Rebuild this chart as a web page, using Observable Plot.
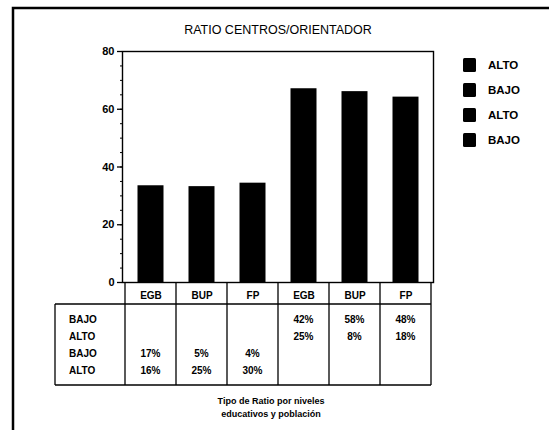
<!DOCTYPE html>
<html><head><meta charset="utf-8">
<script src="https://cdn.jsdelivr.net/npm/d3@7"></script>
<script src="https://cdn.jsdelivr.net/npm/@observablehq/plot@0.6"></script>
<style>
body{margin:0;background:#fff;}
#chart svg{display:block;}
</style></head><body><div id="chart"></div>
<script>
const title = "RATIO CENTROS/ORIENTADOR";
const columns = ["EGB1","BUP1","FP1","EGB2","BUP2","FP2"];
const columnLabels = ["EGB","BUP","FP","EGB","BUP","FP"];
const ratios = [33.5, 33.2, 34.4, 67.1, 66.1, 64.2];
const yTicks = [0, 20, 40, 60, 80];
const rowLabels = ["BAJO","ALTO","BAJO","ALTO"];
const colEGB1 = ["", "", "17%", "16%"];
const colBUP1 = ["", "", "5%", "25%"];
const colFP1  = ["", "", "4%", "30%"];
const colEGB2 = ["42%", "25%", "", ""];
const colBUP2 = ["58%", "8%", "", ""];
const colFP2  = ["48%", "18%", "", ""];
const legendLabels = ["ALTO","BAJO","ALTO","BAJO"];
const caption = ["Tipo de Ratio por niveles", "educativos y población"];

const tableValues = [colEGB1, colBUP1, colFP1, colEGB2, colBUP2, colFP2];
const data = columns.map((c, i) => ({col: c, value: ratios[i]}));
const FONT = "'Liberation Sans', Arial, Helvetica, sans-serif";

const plot = Plot.plot({
  width: 549, height: 430,
  marginLeft: 122, marginRight: 116, marginTop: 51, marginBottom: 148,
  style: {fontFamily: FONT, background: "white", color: "black"},
  x: {domain: columns, padding: 0, axis: null},
  y: {domain: [0, 80], axis: null},
  marks: [
    Plot.barY(data, {x: "col", y: "value", fill: "black", insetLeft: 12.5, insetRight: 12.5}),
    Plot.frame({stroke: "black", strokeWidth: 1.4}),
    Plot.axisY({ticks: d3.range(0, 81, 5), tickSize: 2, tickFormat: () => "", label: null, strokeWidth: 1}),
    Plot.axisY({ticks: yTicks, tickSize: 5, tickPadding: 3, label: null, fontSize: 11, fontWeight: "bold", strokeWidth: 1.3}),
    Plot.axisX({tickSize: 0, tickPadding: 9.5, label: null, fontSize: 10, fontWeight: "bold",
      tickFormat: d => columnLabels[columns.indexOf(d)]})
  ]
});
document.getElementById("chart").appendChild(plot);

const svg = d3.select(plot);
const xs = plot.scale("x");
const ys = plot.scale("y");
const bw = xs.bandwidth;
const x0 = xs.apply(columns[0]);
const x1 = xs.apply(columns[columns.length - 1]) + bw;
const y0 = ys.apply(0);
const tableLeft = 55;
const headerBottom = y0 + 22;
const tableBottom = y0 + 103;
const rowY = i => y0 + 37 + 17 * i;

const g = svg.append("g").attr("font-family", FONT).attr("fill", "black").attr("text-anchor", "start");
const lines = g.append("g").attr("stroke", "black").attr("stroke-width", 1.3).attr("fill", "none");
for (let k = 0; k <= columns.length; k++) {
  const x = x0 + k * bw;
  lines.append("line").attr("x1", x).attr("x2", x).attr("y1", y0).attr("y2", tableBottom);
}
lines.append("line").attr("x1", tableLeft).attr("x2", x1).attr("y1", headerBottom).attr("y2", headerBottom);
lines.append("line").attr("x1", tableLeft).attr("x2", x1).attr("y1", tableBottom).attr("y2", tableBottom);
lines.append("line").attr("x1", tableLeft).attr("x2", tableLeft).attr("y1", headerBottom).attr("y2", tableBottom);

// outer page frame
g.append("path").attr("d", "M13,430 V8 H549").attr("stroke", "black").attr("stroke-width", 2.5).attr("fill", "none");

// row labels
rowLabels.forEach((t, i) => {
  g.append("text").attr("x", 69).attr("y", rowY(i)).attr("dy", "0.35em").attr("text-anchor", "start")
    .attr("font-size", 10).attr("font-weight", "bold").text(t);
});
// values
columns.forEach((c, j) => {
  const cx = xs.apply(c) + bw / 2;
  tableValues[j].forEach((t, i) => {
    if (!t) return;
    g.append("text").attr("x", cx).attr("y", rowY(i)).attr("dy", "0.35em")
      .attr("text-anchor", "middle").attr("font-size", 10).attr("font-weight", "bold").text(t);
  });
});

// title
g.append("text").attr("x", (x0 + x1) / 2).attr("y", 30).attr("dy", "0.35em")
  .attr("text-anchor", "middle").attr("font-size", 12.5).text(title);

// legend
legendLabels.forEach((t, i) => {
  const cy = 65 + 25 * i;
  g.append("rect").attr("x", 463).attr("y", cy - 7).attr("width", 13).attr("height", 14).attr("rx", 1.5).attr("fill", "black");
  g.append("text").attr("x", 488).attr("y", cy).attr("dy", "0.35em").attr("text-anchor", "start")
    .attr("font-size", 11.5).attr("font-weight", "bold").text(t);
});

// caption
caption.forEach((t, i) => {
  g.append("text").attr("x", 271).attr("y", 401 + 13 * i).attr("dy", "0.35em")
    .attr("text-anchor", "middle").attr("font-size", 9).attr("font-weight", "bold").text(t);
});
</script></body></html>
